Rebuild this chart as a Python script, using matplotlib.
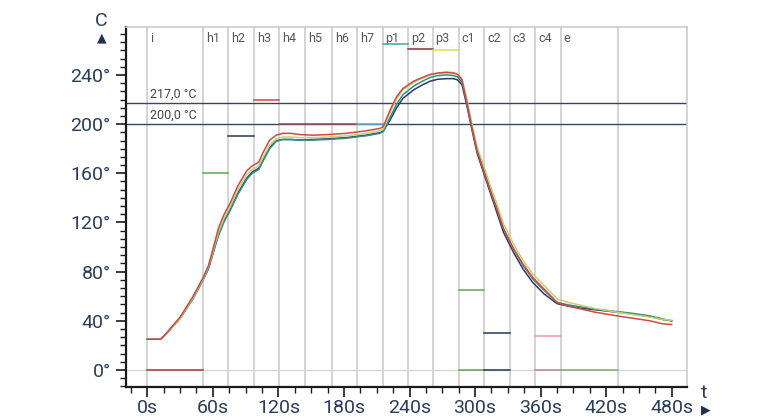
import numpy as np
import matplotlib
matplotlib.use('Agg')
import matplotlib.pyplot as plt
from matplotlib.ticker import MultipleLocator, FuncFormatter

plt.rcParams['font.family'] = ['Roboto', 'DejaVu Sans']

# zones of the reflow profile (start time in s)
zone_names = ['i', 'h1', 'h2', 'h3', 'h4', 'h5', 'h6', 'h7', 'p1', 'p2', 'p3', 'c1', 'c2', 'c3', 'c4', 'e']
zone_edges = [0, 51.3, 74.2, 98, 121, 144.5, 169, 192, 215.5, 238.6, 261.2, 285, 308.5, 332, 355.2, 378.7, 430.5]

# setpoint segments: (zone start, zone end, value)
sp_start = [0, 51.3, 74.2, 98, 121, 144.5, 169, 192, 215.5, 238.6, 261.2, 285, 285, 308.5, 308.5, 355.2, 355.2, 378.7]
sp_end = [51.3, 74.2, 98, 121, 144.5, 169, 192, 215.5, 238.6, 261.2, 285, 308.5, 308.5, 332, 332, 378.7, 378.7, 430.5]
sp_value = [0, 160, 190, 220, 200, 200, 200, 200, 265, 261, 260, 65, 0, 30, 0, 28, 0, 0]
sp_color = ['#a8353d', '#5fa653', '#24355c', '#c7464a', '#9a4a5a', '#9a4a5a', '#9a4a5a', '#5fb3d6',
            '#3fa99a', '#8a2f35', '#e6d85a', '#5fa653', '#5fa653', '#24355c', '#24355c', '#e59aa5', '#b58a9a', '#7fb06a']

limits = [217.0, 200.0]

# measured temperature curves
t = [0, 12, 16, 30, 42, 51, 56, 60, 65, 70, 76, 83, 91, 96, 102, 106, 112, 118, 124, 131,
     140, 152, 165, 182, 200, 213, 216, 222, 228, 234, 244, 252, 259, 266, 274, 280, 284, 288, 292, 297,
     302, 308, 314, 320, 326, 335, 344, 353, 363, 375, 385, 395, 410, 430, 445, 460, 472, 480]
red = [25, 25, 28.5, 43, 60, 75, 85, 98, 115, 126, 136, 150, 162, 166, 169, 177, 187, 191, 192.5, 192.5,
       191.5, 191, 191.5, 192.5, 194.5, 196.5, 198, 211, 222, 229, 235, 238, 240.5, 241.5, 242, 241.5, 240.5, 236, 220, 198,
       178, 162, 146, 131, 115, 99, 86, 75, 66, 55, 52, 50, 47, 44, 42, 40, 37.5, 37]
yellow = [25, 25, 28, 42, 59, 74, 84, 96, 112, 123, 133, 147, 159, 163, 166, 173, 183, 188, 189.5, 189.5,
          189, 189, 189.5, 190.5, 192.5, 194.5, 196, 209, 220, 228, 234, 237.5, 240, 241.5, 242.5, 242, 241, 237, 222, 201,
          181, 166, 150, 135, 119, 103, 89, 78, 69, 58, 55, 53, 50, 47, 45, 43, 41, 40.5]
teal = [25, 25, 28, 42, 58, 73, 82, 94, 109, 120, 130, 143, 155, 160, 163, 170, 180, 186, 187.5, 187.5,
        187, 187, 187.5, 188.5, 190.5, 192.5, 194, 205, 216, 224, 231, 235, 238, 239.5, 240, 239.5, 238.5, 234, 219, 197,
        178, 162, 146, 131, 115, 99, 85, 74, 65, 55, 53, 51.5, 49.5, 47.5, 46, 44, 41.5, 40]
navy = [25, 25, 28, 42, 59, 74, 83, 95, 110, 121, 131, 144, 156, 161, 164, 171, 181, 186.5, 187.5, 187.5,
        187, 187.5, 188, 189, 191, 193, 194.5, 203, 213, 221, 228, 232, 235, 236.5, 237, 237, 236, 232, 217, 196,
        176, 160, 144, 128, 112, 96, 82, 71, 62, 54, 52, 50.5, 49, 47, 45.5, 43.5, 41, 40]

txt = '#2a3d5c'
grid = '#c9c9c9'

fig = plt.figure(figsize=(7.7, 4.2), dpi=100)
ax = fig.add_axes([126 / 770, 1 - 386.7 / 420, (687 - 126) / 770, (386.7 - 27) / 420])
ax.set_xlim(-19.5, 494)
ax.set_ylim(-13.6, 279)

# zone separators
for e in zone_edges:
    ax.axvline(e, color=grid, lw=1.1, zorder=1)
ax.axhline(0, color='#d6d6d6', lw=1.0, zorder=1)

for name, e in zip(zone_names, zone_edges[:-1]):
    ax.text(e + 2.5, 0.985, name, transform=ax.get_xaxis_transform(), ha='left', va='top',
            fontsize=9, color='#555555')

# limit lines
for v in limits:
    ax.axhline(v, color='#33475f', lw=1.0, zorder=2)
    ax.text(2.5, v + 1.8, ('%.1f' % v).replace('.', ',') + ' °C',
            ha='left', va='bottom', fontsize=9, color='#444444')

# setpoints
for s, e, v, c in zip(sp_start, sp_end, sp_value, sp_color):
    ax.plot([s, e], [v, v], color=c, lw=1.1, zorder=3)

# curves
ax.plot(t, navy, color='#2a3a6a', lw=1.1, zorder=4)
ax.plot(t, teal, color='#2f8f86', lw=1.1, zorder=5)
ax.plot(t, yellow, color='#cfcf6a', lw=1.1, zorder=6)
ax.plot(t, red, color='#cc4a4a', lw=1.1, zorder=7)

# axes style
for side in ['top', 'right']:
    ax.spines[side].set_color(grid)
    ax.spines[side].set_linewidth(1.1)
for side in ['left', 'bottom']:
    ax.spines[side].set_color('#1a1a1a')
    ax.spines[side].set_linewidth(1.6)

ax.xaxis.set_major_locator(MultipleLocator(60))
ax.xaxis.set_minor_locator(MultipleLocator(15))
ax.yaxis.set_major_locator(MultipleLocator(40))
ax.yaxis.set_minor_locator(MultipleLocator(40 / 6))
ax.xaxis.set_major_formatter(FuncFormatter(lambda v, p: '%ds' % v))
ax.yaxis.set_major_formatter(FuncFormatter(lambda v, p: '%d°' % v))
ax.tick_params(which='major', length=7, width=1.2, color='#1a1a1a', labelsize=14, labelcolor=txt)
ax.tick_params(which='minor', length=4, width=1.0, color='#1a1a1a')
ax.tick_params(axis='x', pad=1.5)
ax.tick_params(axis='y', pad=4)

# axis arrows / names
fig.text(101 / 770, 1 - 21 / 420, 'C', ha='center', va='center', fontsize=14, color=txt)
fig.text(101.5 / 770, 1 - 38 / 420, '▲', ha='center', va='center', fontsize=9, color='#1f3050',
         family=['DejaVu Sans'])
fig.text(704 / 770, 1 - 393 / 420, 't', ha='center', va='center', fontsize=14, color=txt)
fig.text(706 / 770, 1 - 410 / 420, '▶', ha='center', va='center', fontsize=9, color='#1f3050',
         family=['DejaVu Sans'])

fig.savefig('out.png', dpi=100)
